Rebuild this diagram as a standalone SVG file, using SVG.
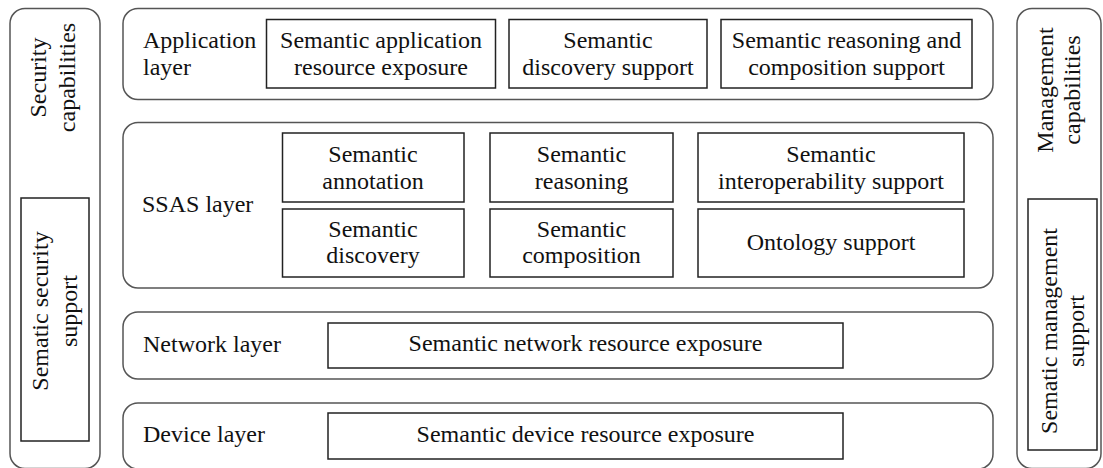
<svg xmlns="http://www.w3.org/2000/svg" width="1103" height="468" viewBox="0 0 1103 468">
<style>
.outer{fill:#fff;stroke:#555;stroke-width:1.5}
.box{fill:#fff;stroke:#222;stroke-width:1.5}
text{font-family:"Liberation Serif","Times New Roman",serif;font-size:24px;fill:#111}
.c{text-anchor:middle}
</style>
<rect width="1103" height="468" fill="#fff"/>
<g id="security">
<rect class="outer" x="10" y="8.5" width="90" height="460" rx="15"/>
<text class="c" transform="translate(46,77.5) rotate(-90)"><tspan x="0" y="0">Security</tspan><tspan x="0" y="29">capabilities</tspan></text>
<g id="sec-support">
<rect class="box" x="21" y="198" width="68" height="243"/>
<text class="c" transform="translate(48,311) rotate(-90)"><tspan x="0" y="0">Sematic security</tspan><tspan x="0" y="29">support</tspan></text>
</g>
</g>
<g id="management">
<rect class="outer" x="1017" y="8.5" width="84" height="460" rx="15"/>
<text class="c" transform="translate(1053,90) rotate(-90)"><tspan x="0" y="0">Management</tspan><tspan x="0" y="27">capabilities</tspan></text>
<g id="mgmt-support">
<rect class="box" x="1028" y="199" width="69" height="251"/>
<text class="c" transform="translate(1057,331) rotate(-90)"><tspan x="0" y="0">Sematic management</tspan><tspan x="0" y="27">support</tspan></text>
</g>
</g>
<g id="application-layer">
<rect class="outer" x="123" y="8.5" width="870" height="91" rx="15"/>
<text x="143" y="48">Application</text>
<text x="143" y="74.5">layer</text>
<g id="app1"><rect class="box" x="266.5" y="19.5" width="229" height="68.5"/><text class="c" x="381" y="48">Semantic application</text><text class="c" x="381" y="75">resource exposure</text></g>
<g id="app2"><rect class="box" x="509" y="19.5" width="198" height="68.5"/><text class="c" x="608" y="48">Semantic</text><text class="c" x="608" y="75">discovery support</text></g>
<g id="app3"><rect class="box" x="721" y="19.5" width="251" height="68.5"/><text class="c" x="846.5" y="48">Semantic reasoning and</text><text class="c" x="846.5" y="75">composition support</text></g>
</g>
<g id="ssas-layer">
<rect class="outer" x="123" y="122.5" width="870" height="165.5" rx="15"/>
<text x="142" y="212">SSAS layer</text>
<g id="ssas1"><rect class="box" x="282.5" y="133" width="181.5" height="69"/><text class="c" x="373" y="162">Semantic</text><text class="c" x="373" y="189">annotation</text></g>
<g id="ssas2"><rect class="box" x="490" y="133" width="183" height="69"/><text class="c" x="581.5" y="162">Semantic</text><text class="c" x="581.5" y="189">reasoning</text></g>
<g id="ssas3"><rect class="box" x="698" y="133" width="266" height="69"/><text class="c" x="831" y="162">Semantic</text><text class="c" x="831" y="189">interoperability support</text></g>
<g id="ssas4"><rect class="box" x="282.5" y="209" width="181.5" height="68"/><text class="c" x="373" y="237">Semantic</text><text class="c" x="373" y="263">discovery</text></g>
<g id="ssas5"><rect class="box" x="490" y="209" width="183" height="68"/><text class="c" x="581.5" y="237">Semantic</text><text class="c" x="581.5" y="263">composition</text></g>
<g id="ssas6"><rect class="box" x="698" y="209" width="266" height="68"/><text class="c" x="831" y="250">Ontology support</text></g>
</g>
<g id="network-layer">
<rect class="outer" x="123" y="312" width="870" height="67" rx="15"/>
<text x="143" y="352">Network layer</text>
<g id="net1"><rect class="box" x="328" y="323" width="515" height="45"/><text class="c" x="585.5" y="351">Semantic network resource exposure</text></g>
</g>
<g id="device-layer">
<rect class="outer" x="123" y="403" width="870" height="66" rx="15"/>
<text x="143" y="442">Device layer</text>
<g id="dev1"><rect class="box" x="328" y="413" width="515" height="46"/><text class="c" x="585.5" y="442">Semantic device resource exposure</text></g>
</g>
<g id="connectors"></g>
</svg>
